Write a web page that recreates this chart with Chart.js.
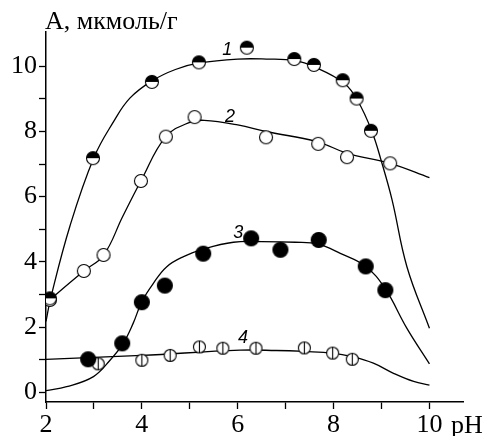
<!DOCTYPE html>
<html>
<head>
<meta charset="utf-8">
<script src="https://cdn.jsdelivr.net/npm/chart.js@4/dist/chart.umd.min.js"></script>
<style>
    html, body { margin: 0; padding: 0; background: #fff; }
    #wrap { width: 489px; height: 436px; position: relative; }
</style>
</head>
<body>
<div id="wrap"><canvas id="phChart"></canvas></div>
<script>
// Measured points (pH, A)
const ph1 = [2.08, 2.98, 4.21, 5.19, 6.19, 7.18, 7.59, 8.19, 8.48, 8.78];
const a1 = [2.88, 7.18, 9.52, 10.12, 10.57, 10.22, 10.04, 9.57, 9.01, 8.02];
const ph2 = [2.08, 2.79, 3.2, 3.98, 4.5, 5.1, 6.59, 7.68, 8.28, 9.18];
const a2 = [2.83, 3.72, 4.21, 6.48, 7.84, 8.44, 7.82, 7.62, 7.21, 7.02];
const ph3 = [2.88, 3.59, 4.0, 4.48, 5.28, 6.28, 6.89, 7.69, 8.67, 9.08];
const a3 = [1.01, 1.5, 2.76, 3.27, 4.25, 4.72, 4.37, 4.67, 3.86, 3.13];
const ph4 = [3.09, 4.0, 4.59, 5.2, 5.69, 6.38, 7.39, 7.98, 8.39];
const a4 = [0.87, 0.98, 1.13, 1.39, 1.35, 1.35, 1.36, 1.2, 1.01];

// Fitted curves
const fit1X = [2.0, 2.1, 2.5, 3.0, 3.41, 3.75, 4.21, 4.7, 5.2, 6.0, 6.6, 7.2, 7.6, 8.2, 8.5, 8.8, 9.0, 9.22, 9.53, 10.0];
const fit1Y = [2.17, 2.9, 5.1, 7.2, 8.3, 9.02, 9.55, 9.9, 10.1, 10.22, 10.22, 10.17, 9.98, 9.5, 8.95, 8.0, 7.07, 5.9, 3.85, 1.96];
const fit2X = [2.0, 2.08, 2.79, 3.2, 3.6, 3.98, 4.5, 5.0, 5.3, 6.0, 6.61, 7.65, 8.28, 9.18, 10.0];
const fit2Y = [2.68, 2.83, 3.72, 4.2, 5.39, 6.48, 7.84, 8.28, 8.34, 8.2, 7.99, 7.69, 7.33, 7.02, 6.58];
const fit3X = [2.0, 2.43, 2.99, 3.34, 3.61, 3.82, 4.0, 4.24, 4.52, 4.87, 5.28, 5.91, 6.5, 7.2, 7.68, 8.14, 8.67, 9.07, 9.53, 10.0];
const fit3Y = [0.05, 0.17, 0.48, 0.99, 1.5, 2.12, 2.78, 3.34, 3.85, 4.16, 4.39, 4.6, 4.62, 4.6, 4.54, 4.26, 3.86, 3.19, 1.96, 0.87];
const fit4X = [2.0, 4.0, 6.05, 6.8, 7.39, 7.98, 8.39, 8.83, 9.25, 9.67, 10.0];
const fit4Y = [1.01, 1.13, 1.29, 1.28, 1.25, 1.2, 1.09, 0.89, 0.58, 0.33, 0.22];

const xTicks = [2, 3, 4, 5, 6, 7, 8, 9, 10];
const yTicks = [0, 1, 2, 3, 4, 5, 6, 7, 8, 9, 10];

// Curve numbers next to the lines
const curveLabels = ['1', '2', '3', '4'];
const labelX = [5.78, 5.84, 6.01, 6.11];
const labelY = [10.5, 8.44, 4.89, 1.67];

const serif = "'Liberation Serif', 'Times New Roman', serif";

function pts(xs, ys) {
    return xs.map((x, i) => ({ x: x, y: ys[i] }));
}

// Marker images
function makeMarker(r, kind) {
    const c = document.createElement('canvas');
    const s = Math.ceil(r * 2 + 3);
    c.width = s;
    c.height = s;
    const g = c.getContext('2d');
    const m = s / 2;
    g.lineWidth = 1.1;
    g.strokeStyle = '#000';
    g.beginPath();
    g.arc(m, m, r, 0, Math.PI * 2);
    g.fillStyle = kind === 'filled' ? '#000' : '#fff';
    g.fill();
    if (kind === 'half') {
        g.beginPath();
        g.arc(m, m, r, Math.PI, Math.PI * 2);
        g.closePath();
        g.fillStyle = '#000';
        g.fill();
    }
    g.beginPath();
    g.arc(m, m, r, 0, Math.PI * 2);
    g.stroke();
    if (kind === 'bar') {
        g.beginPath();
        g.moveTo(m, m - r);
        g.lineTo(m, m + r);
        g.stroke();
    }
    return c;
}

function curve(xs, ys) {
    return {
        type: 'line',
        data: pts(xs, ys),
        borderColor: '#000',
        borderWidth: 1.3,
        pointRadius: 0,
        tension: 0.4,
        fill: false,
        order: 2
    };
}

function marks(xs, ys, img) {
    return {
        type: 'scatter',
        data: pts(xs, ys),
        pointStyle: img,
        pointRadius: 8,
        pointHoverRadius: 8,
        order: 1
    };
}

const textPlugin = {
    id: 'textPlugin',
    afterDatasetsDraw(chart) {
        const ctx = chart.ctx;
        const xs = chart.scales.x;
        const ys = chart.scales.y;
        ctx.save();
        ctx.fillStyle = '#000';
        ctx.textBaseline = 'middle';
        ctx.textAlign = 'center';
        ctx.font = 'italic 18px "Liberation Sans", Arial, sans-serif';
        curveLabels.forEach((t, i) => {
            ctx.fillText(t, xs.getPixelForValue(labelX[i]), ys.getPixelForValue(labelY[i]));
        });
        ctx.textBaseline = 'alphabetic';
        ctx.textAlign = 'left';
        ctx.font = '26px ' + serif;
        ctx.fillText('A, мкмоль/г', 45, 29);
        ctx.fillText('pH', 451, 433);
        ctx.restore();
    }
};

function drawChart() {
    const tickFont = { family: serif, size: 26 };
    new Chart(document.getElementById('phChart'), {
        data: {
            datasets: [
                curve(fit1X, fit1Y),
                curve(fit2X, fit2Y),
                curve(fit3X, fit3Y),
                curve(fit4X, fit4Y),
                marks(ph1, a1, makeMarker(6.5, 'half')),
                marks(ph2, a2, makeMarker(6.5, 'open')),
                marks(ph3, a3, makeMarker(7.5, 'filled')),
                marks(ph4, a4, makeMarker(6, 'bar'))
            ]
        },
        options: {
            responsive: true,
            maintainAspectRatio: false,
            animation: false,
            events: [],
            layout: { padding: { top: 32, right: 26, left: 0, bottom: 0 } },
            plugins: {
                legend: { display: false },
                tooltip: { enabled: false }
            },
            scales: {
                x: {
                    type: 'linear',
                    min: 2,
                    max: 10.7,
                    afterBuildTicks: function(scale) {
                        scale.ticks = xTicks.map(v => ({ value: v }));
                    },
                    afterFit: function(scale) {
                        scale.height = 34;
                    },
                    border: { display: true, color: '#000', width: 1.5 },
                    grid: { drawOnChartArea: false, drawTicks: true, tickLength: 7, color: '#000', tickWidth: 1.3 },
                    ticks: {
                        color: '#000',
                        font: tickFont,
                        padding: 1,
                        maxRotation: 0,
                        autoSkip: false,
                        callback: function(value) {
                            return value % 2 === 0 ? String(value) : '';
                        }
                    }
                },
                y: {
                    type: 'linear',
                    min: -0.3,
                    max: 11.05,
                    afterBuildTicks: function(scale) {
                        scale.ticks = yTicks.map(v => ({ value: v }));
                    },
                    afterFit: function(scale) {
                        scale.width = 46;
                    },
                    border: { display: true, color: '#000', width: 1.5 },
                    grid: { drawOnChartArea: false, drawTicks: true, tickLength: 7, color: '#000', tickWidth: 1.3 },
                    ticks: {
                        color: '#000',
                        font: tickFont,
                        padding: 2,
                        autoSkip: false,
                        callback: function(value) {
                            return value % 2 === 0 ? String(value) : '';
                        }
                    }
                }
            }
        },
        plugins: [textPlugin]
    });
}

// make sure the serif face is ready before the canvas text is drawn
Promise.all([
    document.fonts.load('26px "Liberation Serif"', 'A, мкмоль/г 0123456789 pH'),
    document.fonts.load('italic 18px "Liberation Sans"', '1234')
]).then(drawChart, drawChart);
</script>
</body>
</html>
